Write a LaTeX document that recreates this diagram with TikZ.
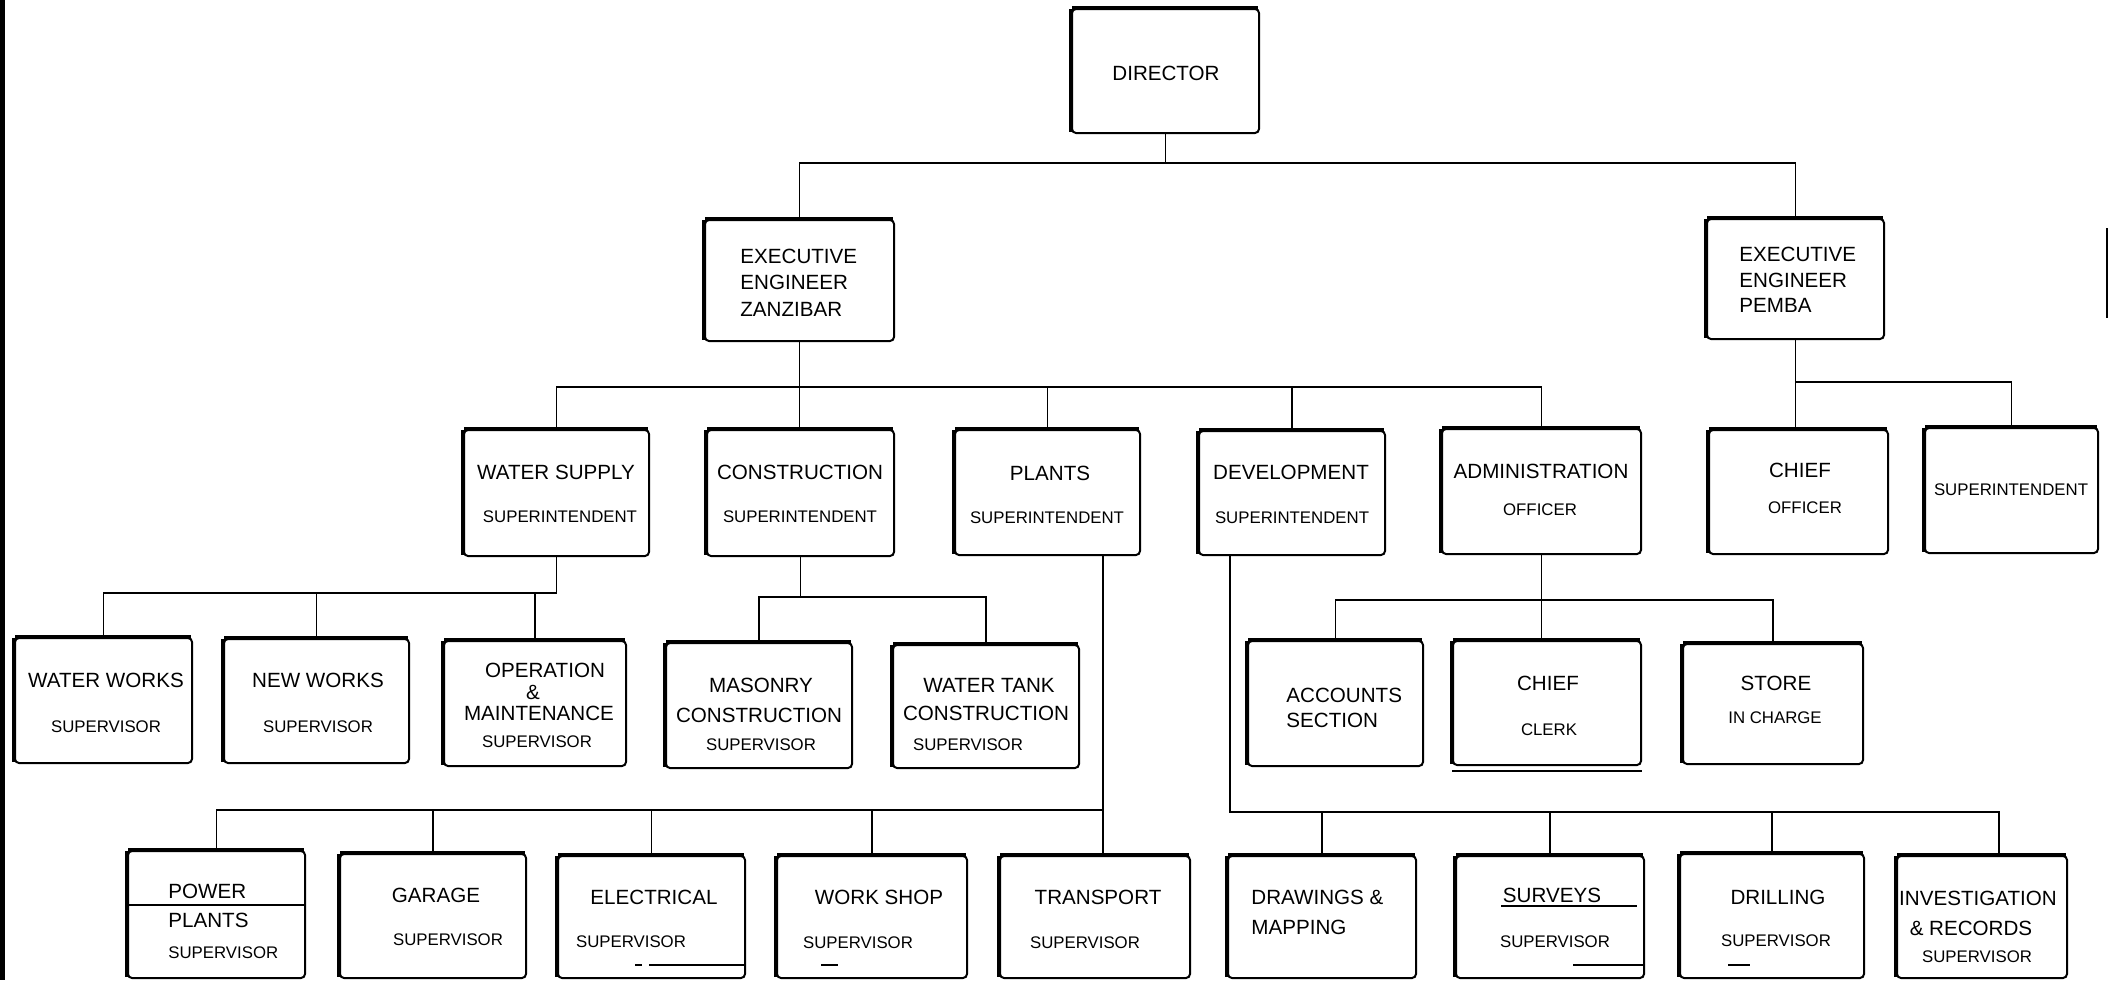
\documentclass[tikz,border=0pt]{standalone}
\usepackage{fontspec}
\setmainfont{Liberation Sans}
\usetikzlibrary{fit}
\newcommand\mainsz{\fontsize{10.3}{12}\selectfont}
\newcommand\smallsz{\fontsize{8.4}{10}\selectfont}
\tikzset{
  box/.style={draw, line width=1pt, rounded corners=2pt, inner sep=0pt},
  topedge/.style={line width=2pt, shorten <=0.5pt, shorten >=1pt},
  leftedge/.style={line width=1.8pt, shorten <=0.5pt, shorten >=1pt},
  conn/.style={line width=0.8pt},
  mt/.style={inner sep=0pt, font=\mainsz},
  sm/.style={inner sep=0pt, font=\smallsz},
  inmark/.style={line width=1pt}
}
\newcommand\obox[5]{%
  \node[box, fit={(#2,#3) (#4,#5)}] (#1) {};
  \draw[topedge] (#1.north west) -- (#1.north east);
  \draw[leftedge] (#1.north west) -- (#1.south west);}
\newcommand\tx[5]{\node[#1] (#2) at (#3,#4) {#5};}
\begin{document}
\begin{tikzpicture}[x=0.5pt,y=-0.5pt]
\useasboundingbox (0,0) rectangle (2109,980);
% border marks
\draw[line width=2.4pt] (2.8,0) -- (2.8,980);
\draw[line width=1pt] (2107,228) -- (2107,318);

% ---- boxes
\obox{dir}{1072}{9}{1259}{133}
\obox{ez}{705}{220}{894}{341}
\obox{ep}{1707}{219}{1884}{339}

\obox{ws}{464}{430}{649}{556}
\obox{co}{707}{430}{894}{556}
\obox{pl}{955}{430}{1140}{555}
\obox{de}{1199}{431}{1385}{555}
\obox{ad}{1442}{429}{1641}{554}
\obox{ch}{1709}{430}{1888}{554}
\obox{su}{1925}{428}{2098}{553}

\obox{ww}{15}{638}{192}{763}
\obox{nw}{224}{639}{409}{763}
\obox{om}{444}{641}{626}{766}
\obox{ma}{666}{643}{852}{768}
\obox{wt}{893}{645}{1079}{768}
\obox{ac}{1248}{641}{1423}{766}
\obox{cc}{1453}{641}{1641}{765}
\obox{st}{1683}{644}{1863}{764}

\obox{pp}{128}{851}{305}{978}
\obox{ga}{340}{854}{526}{978}
\obox{el}{558}{856}{745}{978}
\obox{wk}{777}{856}{967}{978}
\obox{tr}{1000}{856}{1190}{978}
\obox{dm}{1228}{856}{1416}{978}
\obox{sv}{1456}{856}{1644}{978}
\obox{dr}{1680}{854}{1864}{978}
\obox{ir}{1897}{856}{2067}{978}

% ---- texts
\tx{mt}{dirA}{1166}{73}{DIRECTOR}
\tx{mt,anchor=west}{ezA}{740}{256}{EXECUTIVE}
\tx{mt,anchor=west}{ezB}{740}{282}{ENGINEER}
\tx{mt,anchor=west}{ezC}{740}{309}{ZANZIBAR}
\tx{mt,anchor=west}{epA}{1739}{254}{EXECUTIVE}
\tx{mt,anchor=west}{epB}{1739}{280}{ENGINEER}
\tx{mt,anchor=west}{epC}{1739}{305}{PEMBA}

\tx{mt}{wsA}{556}{472}{WATER SUPPLY}
\tx{sm}{wsB}{560}{517}{SUPERINTENDENT}
\tx{mt}{coA}{800}{472}{CONSTRUCTION}
\tx{sm}{coB}{800}{517}{SUPERINTENDENT}
\tx{mt}{plA}{1050}{473}{PLANTS}
\tx{sm}{plB}{1047}{518}{SUPERINTENDENT}
\tx{mt}{deA}{1291}{472}{DEVELOPMENT}
\tx{sm}{deB}{1292}{518}{SUPERINTENDENT}
\tx{mt}{adA}{1541}{471}{ADMINISTRATION}
\tx{sm}{adB}{1540}{510}{OFFICER}
\tx{mt}{chA}{1800}{470}{CHIEF}
\tx{sm}{chB}{1805}{508}{OFFICER}
\tx{sm}{suA}{2011}{490}{SUPERINTENDENT}

\tx{mt}{wwA}{106}{680}{WATER WORKS}
\tx{sm}{wwB}{106}{727}{SUPERVISOR}
\tx{mt}{nwA}{318}{680}{NEW WORKS}
\tx{sm}{nwB}{318}{727}{SUPERVISOR}
\tx{mt}{omA}{545}{670}{OPERATION}
\tx{mt}{omB}{533}{692}{\&}
\tx{mt}{omC}{539}{713}{MAINTENANCE}
\tx{sm}{omD}{537}{742}{SUPERVISOR}
\tx{mt}{maA}{761}{685}{MASONRY}
\tx{mt}{maB}{759}{715}{CONSTRUCTION}
\tx{sm}{maC}{761}{745}{SUPERVISOR}
\tx{mt}{wtA}{989}{685}{WATER TANK}
\tx{mt}{wtB}{986}{713}{CONSTRUCTION}
\tx{sm}{wtC}{968}{745}{SUPERVISOR}
\tx{mt,anchor=west}{acA}{1286}{695}{ACCOUNTS}
\tx{mt,anchor=west}{acB}{1286}{720}{SECTION}
\tx{mt}{ccA}{1548}{683}{CHIEF}
\tx{sm}{ccB}{1549}{730}{CLERK}
\tx{mt}{stA}{1776}{683}{STORE}
\tx{sm}{stB}{1775}{718}{IN CHARGE}

\tx{mt,anchor=west}{ppA}{168}{891}{POWER}
\tx{mt,anchor=west}{ppB}{168}{920}{PLANTS}
\tx{sm,anchor=west}{ppC}{168}{953}{SUPERVISOR}
\tx{mt}{gaA}{436}{895}{GARAGE}
\tx{sm}{gaB}{448}{940}{SUPERVISOR}
\tx{mt}{elA}{654}{897}{ELECTRICAL}
\tx{sm}{elB}{631}{942}{SUPERVISOR}
\tx{mt}{wkA}{879}{897}{WORK SHOP}
\tx{sm}{wkB}{858}{943}{SUPERVISOR}
\tx{mt}{trA}{1098}{897}{TRANSPORT}
\tx{sm}{trB}{1085}{943}{SUPERVISOR}
\tx{mt,anchor=west}{dmA}{1251}{897}{DRAWINGS \&}
\tx{mt,anchor=west}{dmB}{1251}{927}{MAPPING}
\tx{mt}{svA}{1552}{895}{SURVEYS}
\tx{sm}{svB}{1555}{942}{SUPERVISOR}
\tx{mt}{drA}{1778}{897}{DRILLING}
\tx{sm}{drB}{1776}{941}{SUPERVISOR}
\tx{mt}{irA}{1978}{898}{INVESTIGATION}
\tx{mt}{irB}{1971}{928}{\& RECORDS}
\tx{sm}{irC}{1977}{957}{SUPERVISOR}

% ---- extra marks inside boxes
\draw[inmark] (126,905) -- (pp.east |- 126,905);
\draw[line width=1.2pt] ([yshift=-2.5pt]cc.south west) -- ([yshift=-2.5pt]cc.south east);
\draw[inmark] (1501,906) -- (1637,906);
\draw[inmark] (1573,965) -- (sv.east |- 1573,965);
\draw[inmark] (635,965) -- (642,965);
\draw[inmark] (649,965) -- (el.east |- 649,965);
\draw[inmark] (821,965) -- (838,965);
\draw[inmark] (1728,965) -- (1750,965);

% ---- connectors
\coordinate (j1) at (dir.south |- 0,163);
\draw[conn] (dir.south) -- (j1);
\draw[conn] (ez.north) |- (j1) -| (ep.north);

\coordinate (j2) at (ez.south |- 0,387);
\draw[conn] (ez.south) -- (ez.south |- co.north);
\draw[conn] (ws.north) |- (j2) -| (ad.north);
\draw[conn] (pl.north) -- (pl.north |- j2);
\draw[conn] (de.north) -- (de.north |- j2);

\coordinate (j3) at (ep.south |- 0,382);
\draw[conn] (ep.south) -- (ep.south |- ch.north);
\draw[conn] (j3) -| (su.north);

\coordinate (j4) at (ws.south |- 0,593);
\draw[conn] (ws.south) -- (j4) -| (ww.north);
\draw[conn] (nw.north) -- (nw.north |- j4);
\draw[conn] (om.north) -- (om.north |- j4);

\coordinate (j5) at (co.south |- 0,597);
\draw[conn] (co.south) -- (j5);
\draw[conn] (ma.north) |- (j5) -| (wt.north);

\coordinate (j6) at (ad.south |- 0,600);
\draw[conn] (ad.south) -- (ad.south |- cc.north);
\draw[conn] (ac.north) |- (j6) -| (st.north);

\coordinate (tp) at ([xshift=4pt]tr.north);
\coordinate (j7) at (tp |- 0,810);
\draw[conn] (tp |- pl.south) -- (tp);
\draw[conn] (pp.north) |- (j7);
\draw[conn] (ga.north) -- (ga.north |- j7);
\draw[conn] (el.north) -- (el.north |- j7);
\draw[conn] (wk.north) -- (wk.north |- j7);

\coordinate (dp) at ([xshift=16pt]de.south west);
\coordinate (ip) at ([xshift=8.5pt]ir.north);
\coordinate (j8) at (dp |- 0,812);
\draw[conn] (dp) -- (j8) -| (ip);
\draw[conn] (dm.north) -- (dm.north |- j8);
\draw[conn] (sv.north) -- (sv.north |- j8);
\draw[conn] (dr.north) -- (dr.north |- j8);
\end{tikzpicture}
\end{document}
